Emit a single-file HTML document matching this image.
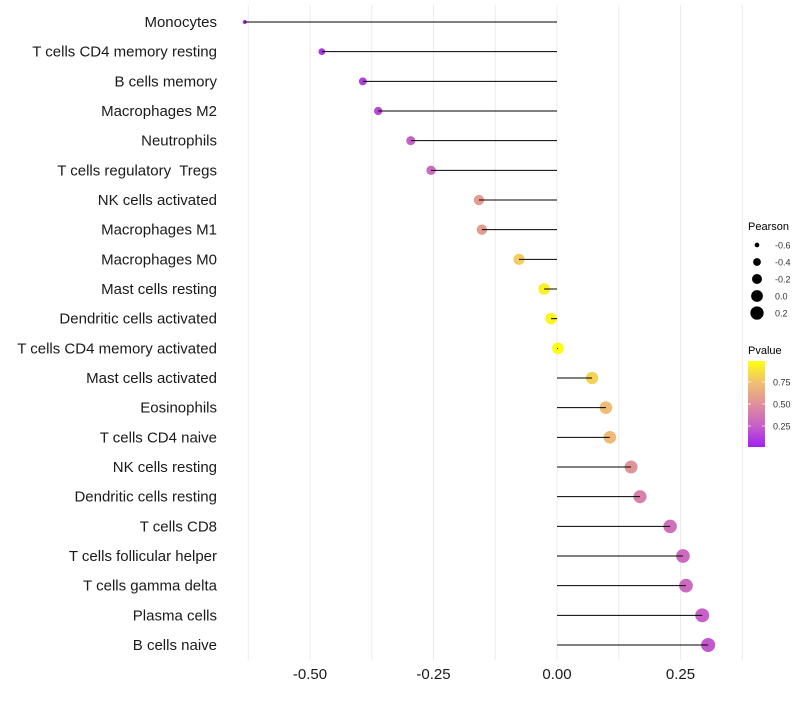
<!DOCTYPE html>
<html><head><meta charset="utf-8"><style>
body{margin:0;background:#fff;font-family:"Liberation Sans",sans-serif}
text{white-space:pre}
</style></head><body>
<svg id="c" width="800" height="700" xmlns="http://www.w3.org/2000/svg">
<defs><linearGradient id="pg" x1="0" y1="1" x2="0" y2="0">
<stop offset="0" stop-color="#a020f0"/><stop offset="0.25" stop-color="#c860c8"/><stop offset="0.5" stop-color="#e0909c"/><stop offset="0.75" stop-color="#f0c070"/><stop offset="1" stop-color="#ffff10"/></linearGradient></defs>
<g id="grid"></g><g id="marks"></g><g id="labels"></g><g id="legend"></g>
</svg>
<script>
const cells=["Monocytes","T cells CD4 memory resting","B cells memory","Macrophages M2","Neutrophils","T cells regulatory  Tregs","NK cells activated","Macrophages M1","Macrophages M0","Mast cells resting","Dendritic cells activated","T cells CD4 memory activated","Mast cells activated","Eosinophils","T cells CD4 naive","NK cells resting","Dendritic cells resting","T cells CD8","T cells follicular helper","T cells gamma delta","Plasma cells","B cells naive"];
const pearson=[-0.632,-0.476,-0.393,-0.362,-0.296,-0.255,-0.158,-0.152,-0.077,-0.026,-0.012,0.002,0.071,0.099,0.107,0.150,0.168,0.229,0.255,0.261,0.294,0.306];
const pvalue=[0.03,0.08,0.12,0.15,0.25,0.3,0.56,0.56,0.8,0.94,0.96,0.99,0.82,0.73,0.72,0.52,0.42,0.33,0.3,0.3,0.25,0.22];
const xTicks=[-0.5,-0.25,0,0.25];
const xTickLabels=["-0.50","-0.25","0.00","0.25"];
const sizeLegend=[-0.6,-0.4,-0.2,0.0,0.2];
const NS="http://www.w3.org/2000/svg";
const X=v=>557+v*494, Y=i=>22+i*29.667;
const R=v=>Math.sqrt(Math.max(2,34.5+48.4*v));
const stops=[[160,32,240],[200,96,200],[224,144,156],[240,192,112],[255,255,16]];
function col(p){p=Math.min(1,Math.max(0,p));const k=Math.min(3,Math.floor(p*4)),t=p*4-k;
 const a=stops[k],b=stops[k+1];return `rgb(${a.map((x,i)=>Math.round(x+(b[i]-x)*t))})`;}
function mk(t,a,parent){const e=document.createElementNS(NS,t);for(const k in a)e.setAttribute(k,a[k]);document.getElementById(parent).appendChild(e);return e;}
for(let v=-0.625;v<=0.376;v+=0.125){const l=mk('line',{x1:X(v),x2:X(v),y1:5,y2:660,stroke:'#ebebeb','stroke-width':1},'grid');

}
xTicks.forEach((v,i)=>{const t=mk('text',{x:X(v),y:679,'text-anchor':'middle','font-size':15,fill:'#1a1a1a'},'labels');t.textContent=xTickLabels[i];

});
cells.forEach((c,i)=>{const y=Y(i);
 const t=mk('text',{x:217,y:y+5,'text-anchor':'end','font-size':15,fill:'#1a1a1a'},'labels');t.textContent=c;
 
 
 const p=mk('circle',{cx:X(pearson[i]),cy:y,r:R(pearson[i]),fill:col(pvalue[i])},'marks');
 
 
 const s=mk('line',{x1:X(0),x2:X(pearson[i]),y1:y,y2:y,stroke:'#000','stroke-width':1},'marks');
 
 
});
let t=mk('text',{x:748,y:230,'font-size':11,fill:'#000'},'legend');t.textContent='Pearson';


sizeLegend.forEach((v,i)=>{const y=245+i*17;
 const c=mk('circle',{cx:757,cy:y,r:R(v),fill:'#000'},'legend');
 
 
 const l=mk('text',{x:775,y:y+3.5,'font-size':9,fill:'#333'},'legend');l.textContent=v.toFixed(1);
 
 });
t=mk('text',{x:748,y:354,'font-size':11,fill:'#000'},'legend');t.textContent='Pvalue';


const bar=mk('rect',{x:748,y:361,width:17,height:86,fill:'url(#pg)'},'legend');


[[0.75,382],[0.5,404],[0.25,426]].forEach(([v,y])=>{
 const l=mk('text',{x:773,y:y+3.5,'font-size':9,fill:'#333'},'legend');l.textContent=v.toFixed(2);
 
 
 mk('line',{x1:748,x2:751,y1:y,y2:y,stroke:'#fff','stroke-width':0.7},'legend');
 mk('line',{x1:762,x2:765,y1:y,y2:y,stroke:'#fff','stroke-width':0.7},'legend');});
</script>
</body></html>
